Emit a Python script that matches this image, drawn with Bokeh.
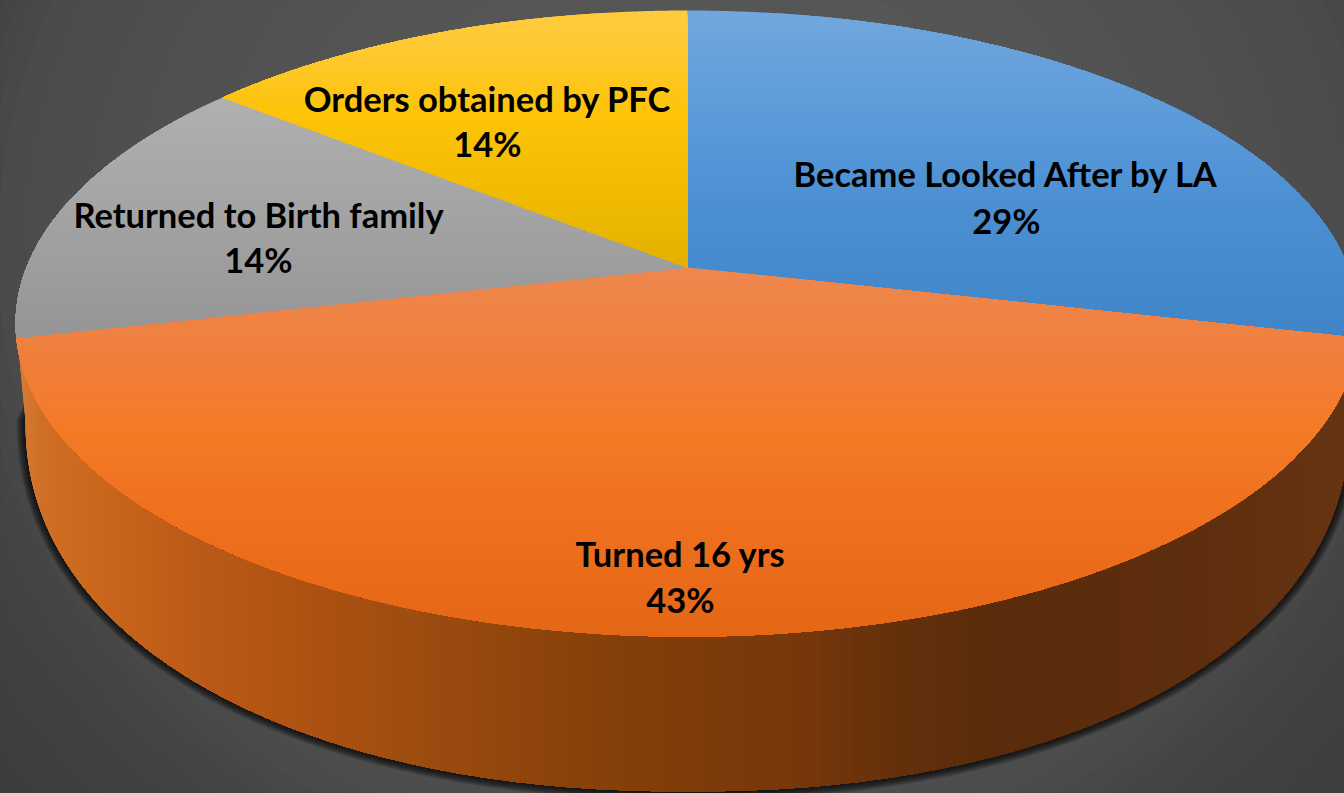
import numpy as np
from bokeh.plotting import figure
from bokeh.embed import file_html
from bokeh.resources import INLINE
from bokeh.core.properties import value

categories = ["Became Looked After by LA", "Turned 16 yrs", "Returned to Birth family", "Orders obtained by PFC"]
counts = [2, 3, 1, 1]
percent_labels = ["29%", "43%", "14%", "14%"]

# vertical gradients of the top face: (screen y, colour)
face_stops = [
    [(10, "#72a7de"), (100, "#5f9dda"), (200, "#4c90d3"), (337, "#3f85c8")],
    [(267, "#ef874e"), (340, "#ef8040"), (430, "#f47a26"), (530, "#ee6f1e"), (636, "#e46716")],
    [(97, "#b0b0b0"), (200, "#a5a5a5"), (337, "#959595")],
    [(10, "#ffcb40"), (60, "#fec82c"), (110, "#fdc409"), (190, "#f2bb02"), (267, "#e2b100")],
]
wall_stops = [(15, "#d47e38"), (45, "#cf6e24"), (110, "#c8651a"), (200, "#bb5a17"), (300, "#ae5212"),
              (400, "#a04d10"), (600, "#864009"), (800, "#77370a"), (900, "#63300c"), (1000, "#5a2c0b"),
              (1200, "#5e2e0e"), (1344, "#663412")]
bg_stops = [(0.0, 0x5a), (0.5, 0x55), (0.77, 0x4f), (0.9, 0x4b), (0.97, 0x46), (1.05, 0x41), (1.25, 0x3b)]
label_pos = [(1006, 173, 220), (680, 553, 599), (258, 214, 259), (487, 98, 143)]

CX, CY = 687.0, 267.0
A, B, K = 661.0, 303.0, 0.179
WY, WB, WA, WN = 420.0, 371.0, 662.0, 2.15


def hex2rgb(h):
    return np.array([int(h[i:i + 2], 16) for i in (1, 3, 5)], float)


def ramp(stops, t):
    xs = [s[0] for s in stops]
    c = [np.interp(t, xs, [hex2rgb(s[1])[i] for s in stops]) for i in range(3)]
    return "#%02x%02x%02x" % tuple(int(round(v)) for v in c)


def project(theta, r=1.0):
    u, v = r * np.sin(theta), r * np.cos(theta)
    w = 1 + K * v
    return CX + A * u / w, CY - B * v / w


def clip(pts, axis, lim):
    """Keep the part of a polygon whose coordinate on axis is >= lim."""
    out = []
    n = len(pts)
    for i in range(n):
        a, b = pts[i], pts[(i + 1) % n]
        ina, inb = a[axis] >= lim, b[axis] >= lim
        if ina:
            out.append(a)
        if ina != inb:
            t = (lim - a[axis]) / (b[axis] - a[axis])
            out.append((a[0] + t * (b[0] - a[0]), a[1] + t * (b[1] - a[1])))
    return out


def wall_hull(grow=0.0, top=337.0, half=670.0):
    ts = np.linspace(0, np.pi, 300)
    c, s = np.cos(ts), np.sin(ts)
    xs = CX + (WA + grow) * np.sign(c) * np.abs(c) ** (2 / WN)
    ys = WY + (WB + grow) * np.abs(s) ** (2 / WN)
    pts = list(zip(xs, ys))
    pts = [(CX + half, top)] + pts + [(CX - half, top)]
    return pts


p = figure(width=1344, height=793, x_range=(0, 1344), y_range=(793, 0),
           output_backend="svg", toolbar_location=None, min_border=0,
           background_fill_color="#3b3b3b", border_fill_color="#3b3b3b")
p.axis.visible = False
p.grid.visible = False
p.outline_line_color = None

# backdrop rings
xs, ys, cols = [], [], []
ang = np.linspace(0, 2 * np.pi, 120)
dvals = np.arange(1.7, 0, -0.02)
for d in dvals:
    xs.append(list(687 + d * 750 * np.cos(ang)))
    ys.append(list(250 + d * 700 * np.sin(ang)))
    g = int(round(np.interp(d, [s[0] for s in bg_stops], [s[1] for s in bg_stops])))
    cols.append("#%02x%02x%02x" % (g, g, g))
p.patches(xs, ys, fill_color=cols, line_color=None)

# soft shadow under the wall
sx, sy = [], []
for k in range(9, 0, -1):
    h = wall_hull(k, top=385.0, half=655.0)
    sx.append([q[0] for q in h])
    sy.append([q[1] for q in h])
p.patches(sx, sy, fill_color="#000000", fill_alpha=0.12, line_color=None)

# wall, as vertical strips
hull = wall_hull()
xs, ys, cols = [], [], []
for x0 in np.arange(10, 1350, 5):
    poly = clip(hull, 0, x0)
    if len(poly) > 2:
        xs.append([q[0] for q in poly])
        ys.append([q[1] for q in poly])
        cols.append(ramp(wall_stops, x0 + 2.5))
p.patches(xs, ys, fill_color=cols, line_color=None)

# top face, each slice painted in horizontal bands
shares = np.array(counts, float) / sum(counts)
ends = np.cumsum(shares) * 2 * np.pi
starts = np.concatenate([[0], ends[:-1]])
for st, en, stops in zip(starts, ends, face_stops):
    th = np.linspace(st, en, 300)
    ex, ey = project(th)
    poly = [(CX, CY)] + list(zip(ex, ey))
    y_low, y_high = min(q[1] for q in poly), max(q[1] for q in poly)
    xs, ys, cols = [], [], []
    for y0 in np.arange(np.floor(y_low), y_high, 3):
        band = clip(poly, 1, y0) if y0 > y_low else poly
        if len(band) > 2:
            xs.append([q[0] for q in band])
            ys.append([q[1] for q in band])
            cols.append(ramp(stops, y0 + 1.5))
    p.patches(xs, ys, fill_color=cols, line_color=None)

# labels
lx = [q[0] for q in label_pos]
p.text(lx, [q[1] for q in label_pos], text=categories, text_font=value("Lato"), text_font_style="bold",
       text_font_size="34.5px", text_color="#000000", text_align="center", text_baseline="middle")
p.text(lx, [q[2] for q in label_pos], text=percent_labels, text_font=value("Lato"), text_font_style="bold",
       text_font_size="34.5px", text_color="#000000", text_align="center", text_baseline="middle")

open("out.html", "w").write(file_html(p, INLINE))
